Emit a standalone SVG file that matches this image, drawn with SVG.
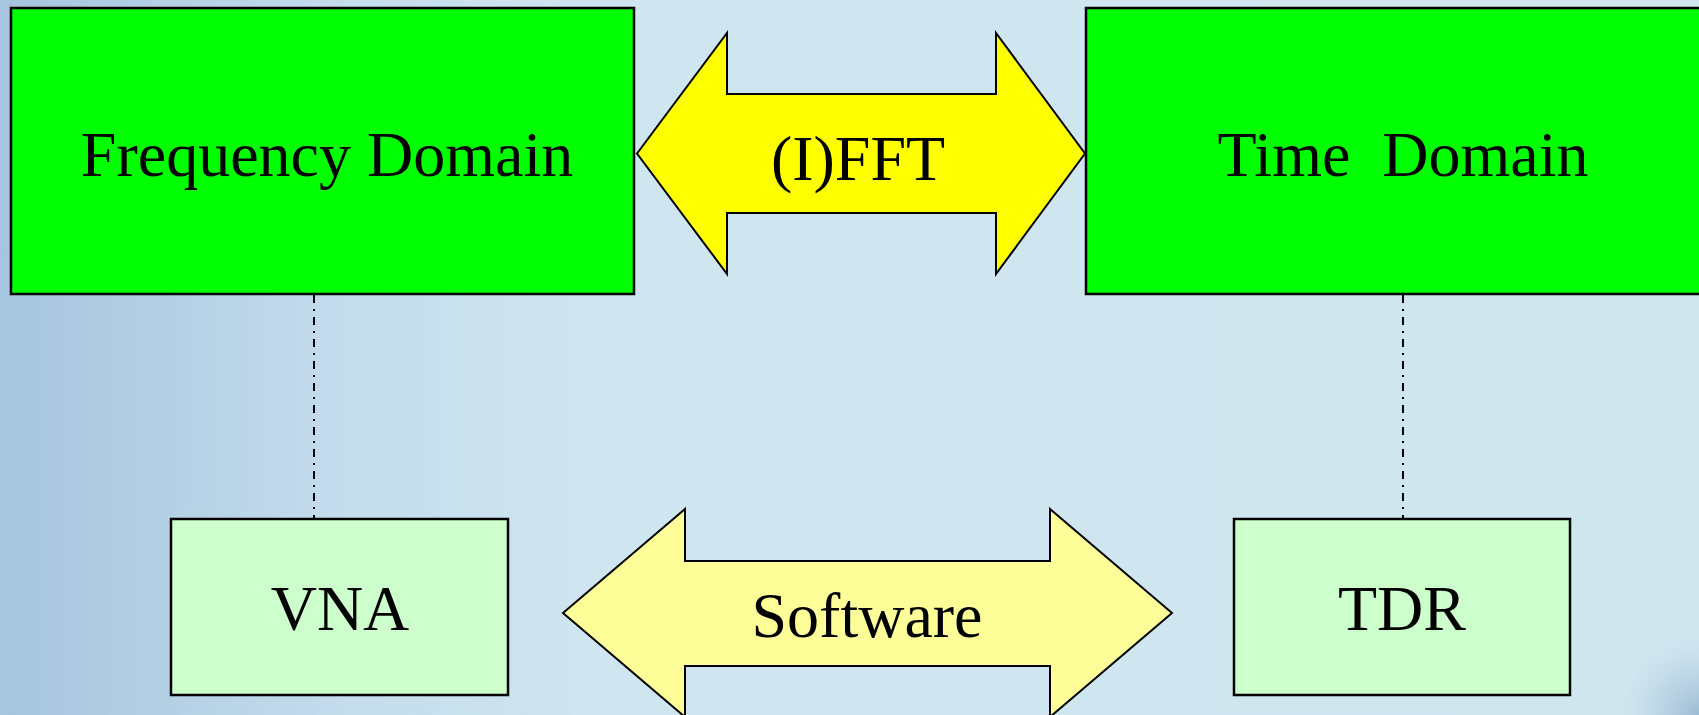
<svg xmlns="http://www.w3.org/2000/svg" width="1699" height="715" viewBox="0 0 1699 715">
  <defs>
    <linearGradient id="bg" x1="0" y1="0" x2="1" y2="0">
      <stop offset="0" stop-color="#a6c4de"/>
      <stop offset="0.08" stop-color="#b2cee4"/>
      <stop offset="0.2" stop-color="#c4dcec"/>
      <stop offset="0.35" stop-color="#cfe5ef"/>
      <stop offset="1" stop-color="#d0e6ef"/>
    </linearGradient>
    <radialGradient id="corner" cx="1699" cy="715" r="90" gradientUnits="userSpaceOnUse">
      <stop offset="0" stop-color="#8fb0cc" stop-opacity="0.8"/>
      <stop offset="0.5" stop-color="#a8c4da" stop-opacity="0.4"/>
      <stop offset="1" stop-color="#d0e6ef" stop-opacity="0"/>
    </radialGradient>
    <style>
      .box { stroke: #000; stroke-width: 2.5; }
      .main { fill: #00ff00; }
      .tool { fill: #ccffcc; }
      .arrow { stroke: #000; stroke-width: 2; stroke-linejoin: miter; }
      .fft { fill: #ffff00; }
      .sw { fill: #ffff99; }
      .label { font-family: "Liberation Serif", "Times New Roman", serif; font-size: 64px; fill: #000; text-anchor: middle; white-space: pre; }
      .link { stroke: #000; stroke-width: 2; stroke-dasharray: 8 6 2 6; fill: none; }
    </style>
  </defs>

  <!-- background -->
  <rect x="0" y="0" width="1699" height="715" fill="url(#bg)"/>
  <rect x="1580" y="610" width="119" height="105" fill="url(#corner)"/>

  <!-- dash-dot links between domains and instruments -->
  <g id="connectors">
    <line class="link" x1="314" y1="295" x2="314" y2="519"/>
    <line class="link" x1="1403" y1="295" x2="1403" y2="519"/>
  </g>

  <g id="frequency-domain">
    <rect class="box main" x="11" y="8" width="623" height="286"/>
    <text class="label" x="327" y="176">Frequency Domain</text>
  </g>

  <g id="time-domain">
    <rect class="box main" x="1086" y="8" width="630" height="286"/>
    <text class="label" x="1403" y="176">Time  Domain</text>
  </g>

  <g id="ifft">
    <polygon class="arrow fft" points="637,153.5 727,33 727,94 996,94 996,33 1085,153.5 996,274 996,213 727,213 727,274"/>
    <text class="label" x="858" y="180">(I)FFT</text>
  </g>

  <g id="vna">
    <rect class="box tool" x="171" y="519" width="337" height="176"/>
    <text class="label" x="340" y="630">VNA</text>
  </g>

  <g id="tdr">
    <rect class="box tool" x="1234" y="519" width="336" height="176"/>
    <text class="label" x="1402" y="630">TDR</text>
  </g>

  <g id="software">
    <polygon class="arrow sw" points="563,613 685,509 685,561 1050,561 1050,509 1172,613 1050,717 1050,666 685,666 685,717"/>
    <text class="label" x="867" y="637">Software</text>
  </g>
</svg>
